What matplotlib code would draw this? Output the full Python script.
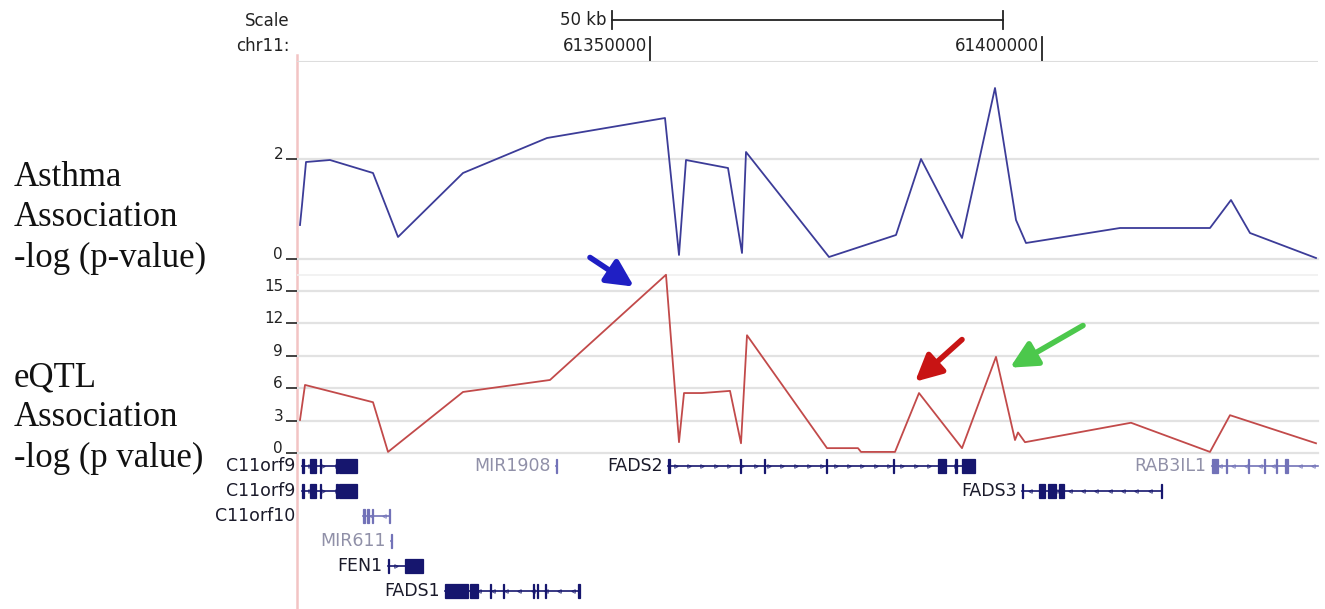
import numpy as np
import matplotlib.pyplot as plt
from matplotlib.lines import Line2D
from matplotlib.patches import Rectangle

W, H = 1325, 609

# chr11 window shown in the browser view
region_start = 61304974
region_end = 61435204

ruler_ticks = [61350000, 61400000]
scale_bar_bp = 50000

# asthma association, -log10(p) per SNP
asthma_pos = [61305357, 61305613, 61306123, 61309184, 61314669, 61317857,
              61326148, 61336862, 61351913, 61353699, 61354592, 61359949,
              61361735, 61362245, 61372831, 61381377, 61384566, 61389796,
              61394005, 61396683, 61397959, 61409949, 61421428, 61424107,
              61426530, 61434948]
asthma_logp = [0.68, 1.08, 1.94, 1.98, 1.72, 0.44,
               1.72, 2.42, 2.82, 0.08, 1.98, 1.82,
               0.12, 2.14, 0.04, 0.48, 2.00, 0.42,
               3.42, 0.78, 0.32, 0.62, 0.62, 1.18,
               0.52, 0.02]

# eQTL association, -log10(p) per SNP
eqtl_pos = [61305357, 61305995, 61314669, 61316582, 61326148, 61337245,
            61352041, 61353699, 61354337, 61356633, 61360204, 61361607,
            61362372, 61372576, 61376530, 61376913, 61381250, 61384311,
            61389796, 61394132, 61396556, 61396938, 61397831, 61411352,
            61421428, 61423979, 61434948]
eqtl_logp = [3.06, 6.3, 4.7, 0.1, 5.65, 6.76,
             16.5, 1.0, 5.55, 5.55, 5.75, 0.9,
             10.9, 0.45, 0.45, 0.1, 0.1, 5.55,
             0.45, 8.9, 1.2, 1.9, 1.0, 2.8,
             0.1, 3.5, 0.9]

# highlighted SNPs: (arrow tail, arrow head) in (position, -log p)
arrow_blue = [(61342347, 18.1), (61347959, 15.4)]
arrow_red = [(61389796, 10.5), (61383801, 6.6)]
arrow_green = [(61405229, 11.8), (61395918, 7.9)]

# RefSeq genes
gene_names = ['C11orf9', 'MIR1908', 'FADS2', 'RAB3IL1', 'C11orf9', 'FADS3',
              'C11orf10', 'MIR611', 'FEN1', 'FADS1']
gene_rows = [0, 0, 0, 0, 1, 1, 2, 3, 4, 5]
gene_starts = [61305613, 61338010, 61352296, 61421683, 61305613, 61397449,
               61313393, 61316965, 61316582, 61323852]
gene_ends = [61312628, 61338110, 61391454, 61435204, 61312628, 61415306,
             61316837, 61317065, 61321046, 61341071]
gene_strands = ['+', '-', '+', '-', '+', '-', '-', '-', '+', '-']
gene_exons = [
    [(61305613, 61305868), (61306633, 61307398), (61307908, 61308036),
     (61309949, 61310204), (61310332, 61312628)],
    [(61338010, 61338110)],
    [(61352296, 61352551), (61361480, 61361607), (61364541, 61364668),
     (61372449, 61372576), (61380995, 61381122), (61386734, 61387755),
     (61388903, 61389159), (61389796, 61391454)],
    [(61421683, 61422449), (61423469, 61423599), (61426275, 61426405),
     (61428316, 61428446), (61429846, 61429976), (61430994, 61431377)],
    [(61305613, 61305868), (61306633, 61307398), (61307908, 61308036),
     (61309949, 61310204), (61310332, 61312628)],
    [(61397449, 61397576), (61399617, 61400382), (61400765, 61401785),
     (61402168, 61402806), (61415178, 61415306)],
    [(61313393, 61313648), (61313903, 61314159), (61314541, 61314669),
     (61316709, 61316837)],
    [(61316965, 61317065)],
    [(61316582, 61316710), (61318750, 61321046)],
    [(61323852, 61326786), (61327041, 61328061), (61329592, 61329722),
     (61331250, 61331380), (61335077, 61335207), (61335587, 61335717),
     (61336607, 61336737), (61340816, 61341071)],
]

# non-coding / predicted entries are drawn lighter
light_genes = ['MIR1908', 'RAB3IL1', 'C11orf10', 'MIR611']
grey_labels = ['MIR1908', 'RAB3IL1', 'MIR611']
margin_labels = ['C11orf9', 'C11orf10']

fig = plt.figure(figsize=(W / 100, H / 100), dpi=100)


def px_box(x0, y0, x1, y1):
    return [x0 / W, 1 - y1 / H, (x1 - x0) / W, (y1 - y0) / H]


def clean(ax):
    ax.set_xlim(region_start, region_end)
    ax.patch.set_alpha(0)
    for s in ax.spines.values():
        s.set_visible(False)
    ax.set_xticks([])


sans = 'DejaVu Sans'
serif = 'Liberation Serif'
tick_kw = dict(axis='y', length=8, width=1.3, color='#333333', pad=2,
               labelsize=11, labelcolor='#222222', direction='out')

# --- ruler ---
ax_top = fig.add_axes(px_box(297, 0, 1318, 62))
clean(ax_top)
ax_top.set_ylim(62, 0)
ax_top.set_yticks([])
mid = (region_start + region_end) / 2
bar_l, bar_r = mid - scale_bar_bp / 2, mid + scale_bar_bp / 2
ax_top.plot([bar_l, bar_r], [20, 20], color='#222222', lw=1.3)
for xb in (bar_l, bar_r):
    ax_top.plot([xb, xb], [11, 29], color='#222222', lw=1.3)
ax_top.text(bar_l - 700, 20, '%d kb' % (scale_bar_bp // 1000), ha='right',
            va='center', fontsize=12, family=sans, color='#222222')
for t in ruler_ticks:
    ax_top.plot([t, t], [37, 62], color='#222222', lw=1.3)
    ax_top.text(t - 350, 46, str(t), ha='right', va='center', fontsize=12,
                family=sans, color='#222222')
ax_top.axhline(62, color='#dddddd', lw=1.5)
fig.text(290 / W, 1 - 21 / H, 'Scale', ha='right', va='center', fontsize=12,
         family=sans, color='#222222')
fig.text(290 / W, 1 - 46 / H, 'chr11:', ha='right', va='center', fontsize=12,
         family=sans, color='#222222')

# --- asthma track ---
ax_a = fig.add_axes(px_box(297, 70, 1318, 259))
clean(ax_a)
ax_a.set_ylim(0, 3.78)
for v in [0, 2]:
    ax_a.axhline(v, color='#e2e2e2', lw=1.6, zorder=0, clip_on=False)
ax_a.plot(asthma_pos, asthma_logp, color='#3c3c98', lw=1.3, clip_on=False)
ax_a.set_yticks([0, 2])
ax_a.tick_params(**tick_kw)
for lbl in ax_a.get_yticklabels():
    lbl.set_va('baseline')

# --- eQTL track ---
ax_e = fig.add_axes(px_box(297, 270, 1318, 453))
clean(ax_e)
ax_e.set_ylim(0, 16.94)
eqtl_ticks = [0, 3, 6, 9, 12, 15]
for v in eqtl_ticks:
    ax_e.axhline(v, color='#e2e2e2', lw=1.6, zorder=0, clip_on=False)
ax_e.axhline(16.5, color='#f0f0f0', lw=1.2, zorder=0)
ax_e.plot(eqtl_pos, eqtl_logp, color='#c24a4a', lw=1.3, clip_on=False)
ax_e.set_yticks(eqtl_ticks)
ax_e.tick_params(**tick_kw)
for lbl in ax_e.get_yticklabels():
    lbl.set_va('baseline')

for (tail, head), col in [(arrow_blue, '#1f1fc4'), (arrow_red, '#c81414'),
                          (arrow_green, '#4cc84c')]:
    ax_e.annotate('', xy=head, xytext=tail, annotation_clip=False,
                  arrowprops=dict(arrowstyle='-|>,head_width=0.5,head_length=1.0',
                                  lw=4, color=col, mutation_scale=16,
                                  shrinkA=0, shrinkB=0))

# --- gene track ---
ax_g = fig.add_axes(px_box(297, 453.5, 1318, 603.5))
clean(ax_g)
ax_g.set_ylim(5.5, -0.5)
ax_g.set_yticks([])
gap = 700
for name, row, s, e, strand, exons in zip(gene_names, gene_rows, gene_starts,
                                          gene_ends, gene_strands, gene_exons):
    col = '#7272b8' if name in light_genes else '#16166e'
    ax_g.plot([s, e], [row, row], color=col, lw=1.2, clip_on=False)
    # strand chevrons along introns
    if e - s > 3000:
        marks = np.arange(s + 1000, e - 300, 1700)
        ax_g.plot(marks, [row] * len(marks), ls='none',
                  marker='>' if strand == '+' else '<', ms=2.6,
                  mfc='none', mec=col, mew=0.7, alpha=0.8)
    for es, ee in exons:
        h = 0.58
        ax_g.add_patch(Rectangle((es, row - h / 2), ee - es, h, facecolor=col,
                                 edgecolor=col, lw=0.9))
    lx = region_start - 200 if name in margin_labels else s - gap
    ax_g.text(lx, row, name, ha='right', va='center', fontsize=12.5,
              family=sans, color='#9090a8' if name in grey_labels else '#1a1a2a',
              clip_on=False)

# highlight guide at the window's left edge
fig.add_artist(Line2D([297 / W, 297 / W], [1 - 55 / H, 0], color='#f2c4c4',
                      lw=1.8, zorder=-1))

# track titles
for y, txt in [(178, 'Asthma'), (218, 'Association'), (258, '-log (p-value)'),
               (378, 'eQTL'), (418, 'Association'), (458, '-log (p value)')]:
    fig.text(14 / W, 1 - y / H, txt, ha='left', va='center', fontsize=25,
             family=serif, color='#111111')

fig.savefig('out.png', dpi=100)
